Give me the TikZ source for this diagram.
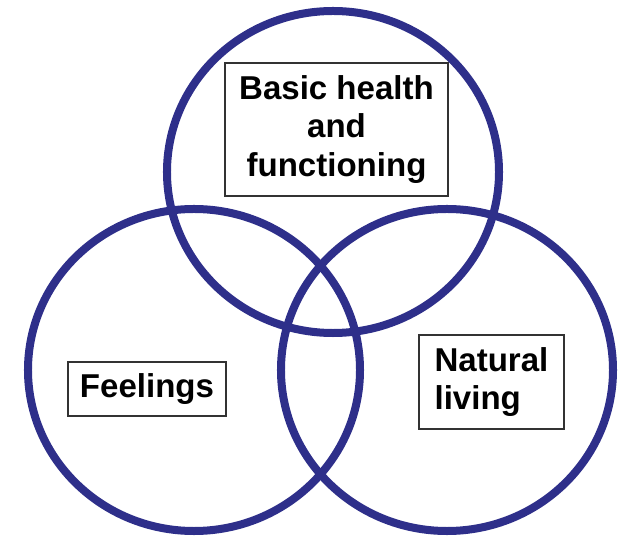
\documentclass[tikz,border=0pt]{standalone}
\usepackage{fontspec}
\setmainfont{Liberation Sans}
\usetikzlibrary{shapes.geometric}
\definecolor{ringblue}{RGB}{46,47,138}
\definecolor{boxgray}{RGB}{50,50,50}
\begin{document}
\begin{tikzpicture}[x=0.03cm, y=-0.03cm]

      \tikzset{ring/.style={draw=ringblue, ellipse, line width=0.24cm, inner sep=0pt, minimum width=9.96cm, minimum height=9.66cm},
               label box/.style={draw=boxgray, line width=1.5pt, fill=white, inner sep=0pt, font=\fontsize{28.2}{32.6}\selectfont\bfseries}}
      \useasboundingbox (0,0) rectangle (631,541);
%% Circles
      	\node[ring] (health) at (333,172) {};
      	\node[ring] (feel) at (194,370) {};
      	\node[ring] (nature) at (447,370) {};

%% Labels
      	\node[label box, minimum width=6.69cm, minimum height=3.99cm, align=center] (hbox) at (336.5,129.5) {Basic health\\and\\functioning};
      	\node[label box, minimum width=4.74cm, minimum height=1.62cm] (fbox) at (147,389) {Feelings};
      	\node[label box, minimum width=4.35cm, minimum height=2.82cm, align=left] (nbox) at (491.5,382) {Natural\\living};
\end{tikzpicture}
\end{document}
